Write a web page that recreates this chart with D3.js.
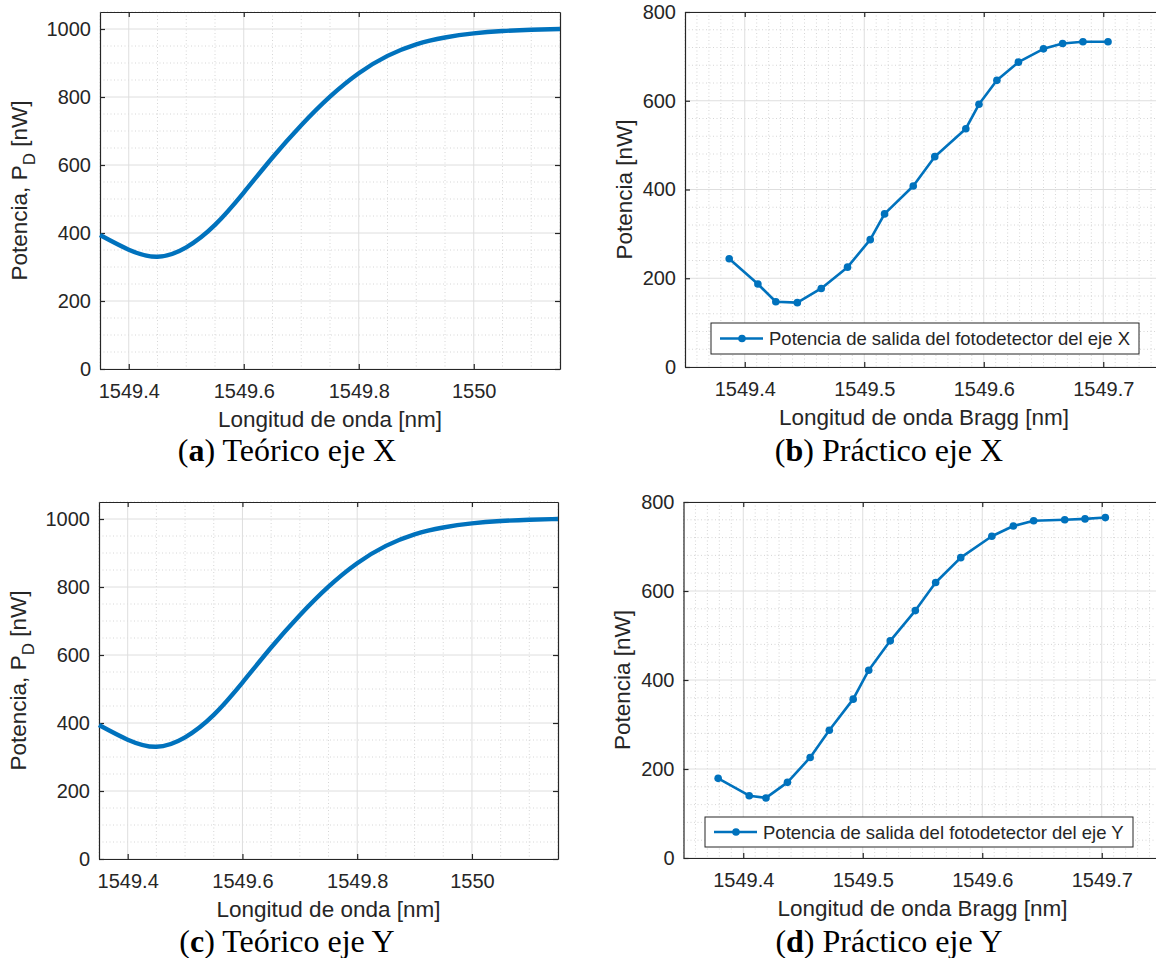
<!DOCTYPE html>
<html>
<head>
<meta charset="utf-8">
<script src="https://cdn.jsdelivr.net/npm/d3@7"></script>
<style>
body { margin: 0; background: #fff; }
text { font-family: "Liberation Sans", Arial, sans-serif; fill: #262626; }
.cap { font-family: "Liberation Serif", "Times New Roman", serif; fill: #000; }
</style>
</head>
<body>
<svg id="fig" width="1156" height="958"></svg>
<script>
// curva teórica, nm y nW
var lambdaTeo = [1549.35, 1549.40, 1549.45, 1549.50, 1549.55, 1549.60, 1549.65, 1549.70,
                 1549.75, 1549.80, 1549.85, 1549.90, 1549.95, 1550.00, 1550.05, 1550.10, 1550.15];
var potTeoX = [394, 351, 330, 358, 424, 519, 622, 717, 801, 870, 921, 955, 975, 987, 994, 998, 1000];
var potTeoY = [394, 351, 330, 358, 424, 519, 622, 717, 801, 870, 921, 955, 975, 987, 994, 998, 1000];

// medidas prácticas
var lambdaPracX = [1549.387, 1549.411, 1549.426, 1549.444, 1549.464, 1549.486, 1549.505, 1549.517, 1549.541,
                   1549.559, 1549.585, 1549.596, 1549.611, 1549.629, 1549.650, 1549.666, 1549.683, 1549.704];
var potPracX = [244, 187, 147, 145, 177, 225, 287, 345, 408, 474, 537, 592, 646, 687, 717, 729, 733, 733];

var lambdaPracY = [1549.379, 1549.405, 1549.419, 1549.437, 1549.456, 1549.472, 1549.492, 1549.505, 1549.523,
                   1549.544, 1549.561, 1549.582, 1549.608, 1549.626, 1549.643, 1549.669, 1549.686, 1549.703];
var potPracY = [179, 140, 135, 170, 226, 287, 357, 422, 488, 556, 619, 675, 723, 746, 758, 760, 762, 765];

// ejes
var ticksTeoX = [1549.4, 1549.6, 1549.8, 1550];
var ticksTeoY = [0, 200, 400, 600, 800, 1000];
var ticksPracX = [1549.4, 1549.5, 1549.6, 1549.7];
var ticksPracY = [0, 200, 400, 600, 800];

var azul = "#0072BD";
var gris = "#262626";
var svg = d3.select("#fig");

function minors(dom, step, major) {
  var out = [];
  var n = Math.round((dom[1] - dom[0]) / step);
  for (var i = 0; i <= n; i++) {
    var v = Math.round((dom[0] + i * step) * 1000) / 1000;
    if (major.indexOf(v) < 0) out.push(v);
  }
  return out;
}

function panel(c) {
  var x = d3.scaleLinear().domain(c.xdom).range([c.left, c.right]);
  var y = d3.scaleLinear().domain(c.ydom).range([c.bottom, c.top]);
  var g = svg.append("g");

  // rejilla menor
  g.selectAll(".mx").data(minors(c.xdom, c.xminor, c.xticks)).enter().append("line")
    .attr("x1", d => x(d)).attr("x2", d => x(d)).attr("y1", c.top).attr("y2", c.bottom)
    .attr("stroke", "#cccccc").attr("stroke-width", 0.8).attr("stroke-dasharray", "1,2.5");
  g.selectAll(".my").data(minors(c.ydom, c.yminor, c.yticks)).enter().append("line")
    .attr("y1", d => y(d)).attr("y2", d => y(d)).attr("x1", c.left).attr("x2", c.right)
    .attr("stroke", "#cccccc").attr("stroke-width", 0.8).attr("stroke-dasharray", "1,2.5");
  // rejilla mayor
  g.selectAll(".gx").data(c.xticks).enter().append("line")
    .attr("x1", d => x(d)).attr("x2", d => x(d)).attr("y1", c.top).attr("y2", c.bottom)
    .attr("stroke", "#dedede").attr("stroke-width", 1);
  g.selectAll(".gy").data(c.yticks).enter().append("line")
    .attr("y1", d => y(d)).attr("y2", d => y(d)).attr("x1", c.left).attr("x2", c.right)
    .attr("stroke", "#dedede").attr("stroke-width", 1);

  // ejes (caja completa, marcas hacia dentro)
  var ax = g.append("g").attr("transform", "translate(0," + c.bottom + ")")
    .call(d3.axisBottom(x).tickValues(c.xticks).tickFormat(d => String(d))
      .tickSizeInner(-5).tickSizeOuter(0).tickPadding(15));
  var ay = g.append("g").attr("transform", "translate(" + c.left + ",0)")
    .call(d3.axisLeft(y).tickValues(c.yticks).tickFormat(d => String(d))
      .tickSizeInner(-5).tickSizeOuter(0).tickPadding(9));
  var at = g.append("g").attr("transform", "translate(0," + c.top + ")")
    .call(d3.axisTop(x).tickValues(c.xticks).tickFormat("").tickSizeInner(-5).tickSizeOuter(0));
  var ar = g.append("g").attr("transform", "translate(" + c.right + ",0)")
    .call(d3.axisRight(y).tickValues(c.yticks).tickFormat("").tickSizeInner(-5).tickSizeOuter(0));
  [ax, ay, at, ar].forEach(function(a) {
    a.selectAll("path").attr("stroke", gris).attr("stroke-width", 1.2);
    a.selectAll("line").attr("stroke", gris).attr("stroke-width", 1.2);
    a.selectAll("text").attr("fill", gris).style("font-size", "20px")
      .style("font-family", "'Liberation Sans', Arial, sans-serif");
  });

  // títulos de ejes
  var xc = (c.left + c.right) / 2;
  g.append("text").attr("x", xc).attr("y", c.bottom + 58).attr("text-anchor", "middle")
    .style("font-size", "22.5px").text(c.xlabel);
  var yl = g.append("text").attr("text-anchor", "middle").style("font-size", "22.5px")
    .attr("transform", "translate(" + c.ylabx + "," + ((c.top + c.bottom) / 2) + ") rotate(-90)");
  if (c.sub) {
    yl.append("tspan").text(c.ylabel);
    yl.append("tspan").attr("dy", 8).style("font-size", "17px").text(c.sub);
    yl.append("tspan").attr("dy", -8).text(" [nW]");
  } else {
    yl.text(c.ylabel);
  }

  // serie
  var line = d3.line().x(d => x(d[0])).y(d => y(d[1]));
  if (c.curve) line.curve(d3.curveNatural);
  var pts = d3.zip(c.xs, c.ys);
  g.append("path").datum(pts).attr("d", line).attr("fill", "none")
    .attr("stroke", azul).attr("stroke-width", c.lw).attr("stroke-linejoin", "round");
  if (c.markers) {
    g.selectAll(".pt").data(pts).enter().append("circle")
      .attr("cx", d => x(d[0])).attr("cy", d => y(d[1])).attr("r", 3.8).attr("fill", azul);
  }

  // leyenda
  if (c.legend) {
    var L = c.legend;
    g.append("rect").attr("x", L.x).attr("y", L.y).attr("width", L.w).attr("height", L.h)
      .attr("fill", "#fff").attr("stroke", gris).attr("stroke-width", 1);
    var my = L.y + L.h / 2;
    g.append("line").attr("x1", L.x + 9).attr("x2", L.x + 52).attr("y1", my).attr("y2", my)
      .attr("stroke", azul).attr("stroke-width", 2.6);
    g.append("circle").attr("cx", L.x + 31).attr("cy", my).attr("r", 3.8).attr("fill", azul);
    g.append("text").attr("x", L.x + 58).attr("y", my + 6.5).style("font-size", "18.5px").text(L.text);
  }

  // pie de subfigura
  var cap = svg.append("text").attr("class", "cap").attr("x", c.capx).attr("y", c.capy)
    .attr("text-anchor", "middle").style("font-size", "32px");
  cap.append("tspan").text("(");
  cap.append("tspan").style("font-weight", "bold").text(c.letter);
  cap.append("tspan").text(") " + c.caption);
}

panel({ left: 100, right: 560, top: 12, bottom: 369, xdom: [1549.35, 1550.15], ydom: [0, 1050],
  xticks: ticksTeoX, yticks: ticksTeoY, xminor: 0.05, yminor: 50,
  xlabel: "Longitud de onda [nm]", ylabel: "Potencia, P", sub: "D", ylabx: 27,
  xs: lambdaTeo, ys: potTeoX, lw: 4.4, curve: true,
  capx: 287, capy: 461, letter: "a", caption: "Teórico eje X" });

panel({ left: 685, right: 1163, top: 12, bottom: 367, xdom: [1549.35, 1549.75], ydom: [0, 800],
  xticks: ticksPracX, yticks: ticksPracY, xminor: 0.01, yminor: 40,
  xlabel: "Longitud de onda Bragg [nm]", ylabel: "Potencia [nW]", ylabx: 632,
  xs: lambdaPracX, ys: potPracX, lw: 2.6, markers: true,
  legend: { x: 711, y: 323, w: 428, h: 31, text: "Potencia de salida del fotodetector del eje X" },
  capx: 889, capy: 461, letter: "b", caption: "Práctico eje X" });

panel({ left: 99, right: 558, top: 502, bottom: 859, xdom: [1549.35, 1550.15], ydom: [0, 1050],
  xticks: ticksTeoX, yticks: ticksTeoY, xminor: 0.05, yminor: 50,
  xlabel: "Longitud de onda [nm]", ylabel: "Potencia, P", sub: "D", ylabx: 26,
  xs: lambdaTeo, ys: potTeoY, lw: 4.4, curve: true,
  capx: 287, capy: 952, letter: "c", caption: "Teórico eje Y" });

panel({ left: 683.5, right: 1161.5, top: 502, bottom: 858, xdom: [1549.35, 1549.75], ydom: [0, 800],
  xticks: ticksPracX, yticks: ticksPracY, xminor: 0.01, yminor: 40,
  xlabel: "Longitud de onda Bragg [nm]", ylabel: "Potencia [nW]", ylabx: 630,
  xs: lambdaPracY, ys: potPracY, lw: 2.6, markers: true,
  legend: { x: 705, y: 817, w: 428, h: 30, text: "Potencia de salida del fotodetector del eje Y" },
  capx: 889, capy: 952, letter: "d", caption: "Práctico eje Y" });
</script>
</body>
</html>
